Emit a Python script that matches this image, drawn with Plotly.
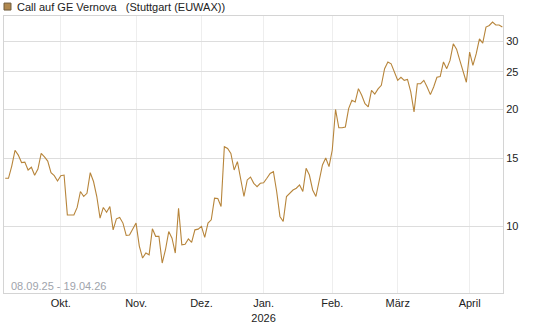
import pandas as pd
import numpy as np
import plotly.graph_objects as go

# ---- data (closing prices per trading day) ----
sep_values = [13.3, 13.3, 14.3, 15.7, 15.26, 14.6, 14.64, 13.97, 14.2, 13.54,
              14.05, 15.42, 15.1, 14.73, 13.75, 13.51, 13.09]
oct_values = [13.51, 13.56, 10.71, 10.7, 10.7, 11.19, 12.3, 11.94, 12.17, 13.75,
              13.05, 11.94, 10.5, 11.19, 10.88, 11.25, 9.8, 10.46, 10.55, 10.2,
              9.48, 9.5, 9.86]
nov_values = [10.2, 8.9, 8.29, 8.54, 8.45, 9.86, 9.43, 9.43, 8.05, 8.71,
              9.7, 9.33, 8.54, 11.14, 8.97, 9.0, 9.29, 9.1, 9.8, 9.84]
dec_values = [10.0, 9.37, 10.2, 10.4, 11.82, 11.8, 11.25, 16.04, 15.87, 15.42,
              13.97, 14.68, 13.3, 11.94, 13.17, 13.4, 12.91, 12.66, 12.91]
jan_values = [12.95, 13.3, 13.69, 13.83, 12.3, 10.61, 10.3, 11.94, 12.17, 12.41,
              12.54, 12.79, 12.3, 14.11, 13.56, 12.41, 11.94, 13.05, 14.39, 15.0,
              14.25]
feb_values = [15.73, 20.0, 17.94, 17.94, 18.03, 20.11, 21.12, 20.9, 22.63, 21.76,
              20.7, 20.3, 22.4, 21.9, 22.6, 23.08, 25.47, 26.5, 26.2, 24.95]
mar_values = [23.77, 24.2, 23.77, 23.9, 22.19, 19.72, 23.3, 23.3, 23.77, 22.85,
              21.84, 22.85, 24.2, 24.3, 26.5, 25.47, 26.75, 29.52, 28.6, 26.75,
              25.2, 23.5]
apr_values = [28.1, 25.98, 27.8, 30.4, 29.64, 32.6, 32.9, 33.56, 33.0, 33.0, 32.6]

holidays = ["2025-12-24", "2025-12-25", "2025-12-26", "2025-12-31",
            "2026-01-01", "2026-04-03", "2026-04-06"]
month_starts = ["2025-10-01", "2025-11-01", "2025-12-01", "2026-01-01",
                "2026-02-01", "2026-03-01", "2026-04-01"]
month_labels = ["Okt.", "Nov.", "Dez.", "Jan.<br>2026", "Feb.", "März", "April"]
y_ticks = [10, 15, 20, 25, 30]

values = (sep_values + oct_values + nov_values + dec_values + jan_values
          + feb_values + mar_values + apr_values)

days = pd.bdate_range("2025-09-08", "2026-04-17")
days = days[~days.isin(pd.to_datetime(holidays))]
idx = list(range(len(values)))
date_text = [d.strftime("%d.%m.%Y") for d in days[:len(values)]]

tick_idx = [int(np.searchsorted(days, pd.Timestamp(m))) for m in month_starts]

LINE = "#b7853b"

fig = go.Figure()
fig.add_trace(go.Scatter(
    x=idx, y=values, mode="lines",
    line=dict(color=LINE, width=1.1),
    customdata=date_text,
    hovertemplate="%{customdata}: %{y:.2f}<extra></extra>",
    showlegend=False,
))

fig.update_layout(
    width=545, height=327,
    margin=dict(l=3, r=42, t=16, b=32),
    paper_bgcolor="white", plot_bgcolor="white",
    font=dict(family="Liberation Sans, Arial, sans-serif", size=11, color="#222222"),
    xaxis=dict(
        range=[-0.37, 152.2],
        tickmode="array", tickvals=tick_idx, ticktext=month_labels,
        showgrid=True, gridcolor="#eeeeee", gridwidth=1,
        showline=True, linecolor="#d4d4d4", linewidth=1, mirror=True,
        ticks="", zeroline=False,
        tickfont=dict(size=11, color="#222222"),
    ),
    yaxis=dict(
        type="log",
        range=[np.log10(6.74), np.log10(34.8)],
        side="right",
        tickmode="array", tickvals=y_ticks, ticktext=[str(v) for v in y_ticks],
        showgrid=True, gridcolor="#dddddd", gridwidth=1,
        showline=True, linecolor="#d4d4d4", linewidth=1, mirror=True,
        ticks="", zeroline=False,
        tickfont=dict(size=11, color="#222222"),
    ),
)

# legend-like header (square + title)
fig.add_shape(type="rect", xref="paper", yref="paper",
              x0=(3-3)/500, x1=(10-3)/500,
              y0=(295-10)/279, y1=(295-3)/279,
              fillcolor="#b0884f", line=dict(color="#6e5a3c", width=1))
fig.add_annotation(xref="paper", yref="paper",
                   x=(14-3)/500, y=(295-6.5)/279, xanchor="left", yanchor="middle",
                   text="Call auf GE Vernova\u00a0\u00a0\u00a0(Stuttgart (EUWAX))",
                   showarrow=False, font=dict(size=11, color="#222222"))
# date range
fig.add_annotation(xref="paper", yref="paper",
                   x=(8-3)/500, y=(295-288)/279, xanchor="left", yanchor="middle",
                   text="08.09.25 - 19.04.26",
                   showarrow=False, font=dict(size=11, color="#a0a4ac"))

fig.write_html("out.html")
